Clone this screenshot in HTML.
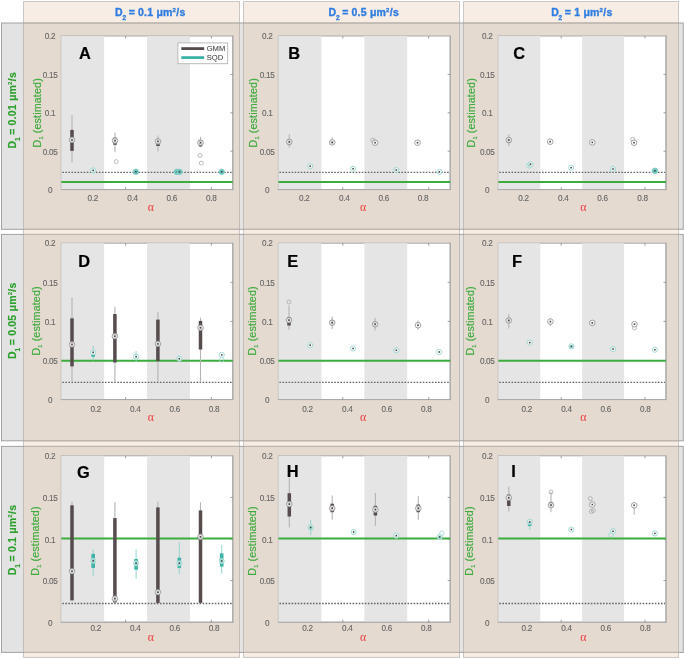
<!DOCTYPE html>
<html><head><meta charset="utf-8"><title>figure</title>
<style>html,body{margin:0;padding:0;background:#fff;width:685px;height:659px;overflow:hidden;font-family:"Liberation Sans", sans-serif;}
.wrap{position:relative;width:685px;height:659px;}</style></head>
<body><div class="wrap">
<svg width="685" height="659" viewBox="0 0 685 659" style="position:absolute;left:0;top:0;display:block;filter:blur(0.45px)">
<rect x="0" y="0" width="685" height="659" fill="#fff"/>
<rect x="23.5" y="1.5" width="216.0" height="655.9" fill="#f7ede4" stroke="#c9c6c3" stroke-width="1"/>
<rect x="243.5" y="1.5" width="216.0" height="655.9" fill="#f7ede4" stroke="#c9c6c3" stroke-width="1"/>
<rect x="463.5" y="1.5" width="215.0" height="655.9" fill="#f7ede4" stroke="#c9c6c3" stroke-width="1"/>
<rect x="1.5" y="23.0" width="681.75" height="206.3" fill="#e3e3e3"/>
<rect x="23.5" y="23.0" width="216.0" height="206.3" fill="#e4dad0"/>
<rect x="243.5" y="23.0" width="216.0" height="206.3" fill="#e4dad0"/>
<rect x="463.5" y="23.0" width="215.0" height="206.3" fill="#e4dad0"/>
<line x1="23.5" y1="23.0" x2="23.5" y2="229.3" stroke="#c4bdb7" stroke-width="1"/>
<line x1="239.5" y1="23.0" x2="239.5" y2="229.3" stroke="#c4bdb7" stroke-width="1"/>
<line x1="243.5" y1="23.0" x2="243.5" y2="229.3" stroke="#c4bdb7" stroke-width="1"/>
<line x1="459.5" y1="23.0" x2="459.5" y2="229.3" stroke="#c4bdb7" stroke-width="1"/>
<line x1="463.5" y1="23.0" x2="463.5" y2="229.3" stroke="#c4bdb7" stroke-width="1"/>
<line x1="678.5" y1="23.0" x2="678.5" y2="229.3" stroke="#c4bdb7" stroke-width="1"/>
<rect x="1.5" y="23.0" width="681.75" height="206.3" fill="none" stroke="#a2a2a2" stroke-width="1"/>
<line x1="24.0" y1="23.0" x2="239.0" y2="23.0" stroke="#c2b8af" stroke-width="1"/>
<line x1="24.0" y1="229.3" x2="239.0" y2="229.3" stroke="#c2b8af" stroke-width="1"/>
<line x1="244.0" y1="23.0" x2="459.0" y2="23.0" stroke="#c2b8af" stroke-width="1"/>
<line x1="244.0" y1="229.3" x2="459.0" y2="229.3" stroke="#c2b8af" stroke-width="1"/>
<line x1="464.0" y1="23.0" x2="678.0" y2="23.0" stroke="#c2b8af" stroke-width="1"/>
<line x1="464.0" y1="229.3" x2="678.0" y2="229.3" stroke="#c2b8af" stroke-width="1"/>
<rect x="1.5" y="234.4" width="681.75" height="206.4" fill="#e3e3e3"/>
<rect x="23.5" y="234.4" width="216.0" height="206.4" fill="#e4dad0"/>
<rect x="243.5" y="234.4" width="216.0" height="206.4" fill="#e4dad0"/>
<rect x="463.5" y="234.4" width="215.0" height="206.4" fill="#e4dad0"/>
<line x1="23.5" y1="234.4" x2="23.5" y2="440.8" stroke="#c4bdb7" stroke-width="1"/>
<line x1="239.5" y1="234.4" x2="239.5" y2="440.8" stroke="#c4bdb7" stroke-width="1"/>
<line x1="243.5" y1="234.4" x2="243.5" y2="440.8" stroke="#c4bdb7" stroke-width="1"/>
<line x1="459.5" y1="234.4" x2="459.5" y2="440.8" stroke="#c4bdb7" stroke-width="1"/>
<line x1="463.5" y1="234.4" x2="463.5" y2="440.8" stroke="#c4bdb7" stroke-width="1"/>
<line x1="678.5" y1="234.4" x2="678.5" y2="440.8" stroke="#c4bdb7" stroke-width="1"/>
<rect x="1.5" y="234.4" width="681.75" height="206.4" fill="none" stroke="#a2a2a2" stroke-width="1"/>
<line x1="24.0" y1="234.4" x2="239.0" y2="234.4" stroke="#c2b8af" stroke-width="1"/>
<line x1="24.0" y1="440.8" x2="239.0" y2="440.8" stroke="#c2b8af" stroke-width="1"/>
<line x1="244.0" y1="234.4" x2="459.0" y2="234.4" stroke="#c2b8af" stroke-width="1"/>
<line x1="244.0" y1="440.8" x2="459.0" y2="440.8" stroke="#c2b8af" stroke-width="1"/>
<line x1="464.0" y1="234.4" x2="678.0" y2="234.4" stroke="#c2b8af" stroke-width="1"/>
<line x1="464.0" y1="440.8" x2="678.0" y2="440.8" stroke="#c2b8af" stroke-width="1"/>
<rect x="1.5" y="446.4" width="681.75" height="206.0" fill="#e3e3e3"/>
<rect x="23.5" y="446.4" width="216.0" height="206.0" fill="#e4dad0"/>
<rect x="243.5" y="446.4" width="216.0" height="206.0" fill="#e4dad0"/>
<rect x="463.5" y="446.4" width="215.0" height="206.0" fill="#e4dad0"/>
<line x1="23.5" y1="446.4" x2="23.5" y2="652.4" stroke="#c4bdb7" stroke-width="1"/>
<line x1="239.5" y1="446.4" x2="239.5" y2="652.4" stroke="#c4bdb7" stroke-width="1"/>
<line x1="243.5" y1="446.4" x2="243.5" y2="652.4" stroke="#c4bdb7" stroke-width="1"/>
<line x1="459.5" y1="446.4" x2="459.5" y2="652.4" stroke="#c4bdb7" stroke-width="1"/>
<line x1="463.5" y1="446.4" x2="463.5" y2="652.4" stroke="#c4bdb7" stroke-width="1"/>
<line x1="678.5" y1="446.4" x2="678.5" y2="652.4" stroke="#c4bdb7" stroke-width="1"/>
<rect x="1.5" y="446.4" width="681.75" height="206.0" fill="none" stroke="#a2a2a2" stroke-width="1"/>
<line x1="24.0" y1="446.4" x2="239.0" y2="446.4" stroke="#c2b8af" stroke-width="1"/>
<line x1="24.0" y1="652.4" x2="239.0" y2="652.4" stroke="#c2b8af" stroke-width="1"/>
<line x1="244.0" y1="446.4" x2="459.0" y2="446.4" stroke="#c2b8af" stroke-width="1"/>
<line x1="244.0" y1="652.4" x2="459.0" y2="652.4" stroke="#c2b8af" stroke-width="1"/>
<line x1="464.0" y1="446.4" x2="678.0" y2="446.4" stroke="#c2b8af" stroke-width="1"/>
<line x1="464.0" y1="652.4" x2="678.0" y2="652.4" stroke="#c2b8af" stroke-width="1"/>
<text x="150.29999999999998" y="16.1" text-anchor="middle" font-family='"Liberation Sans", sans-serif' font-weight="bold" font-size="10.5" letter-spacing="0.3" fill="#2f7de1" stroke="#2f7de1" stroke-width="0.35"><tspan letter-spacing="-0.2">D</tspan><tspan font-size="6.5" dy="4.0" letter-spacing="2.6">2</tspan><tspan dy="-4.0" letter-spacing="0.2">= 0.1 μm</tspan><tspan font-size="6" dy="-3.8">2</tspan><tspan dy="3.8">/s</tspan></text>
<text x="363.8" y="16.1" text-anchor="middle" font-family='"Liberation Sans", sans-serif' font-weight="bold" font-size="10.5" letter-spacing="0.3" fill="#2f7de1" stroke="#2f7de1" stroke-width="0.35"><tspan letter-spacing="-0.2">D</tspan><tspan font-size="6.5" dy="4.0" letter-spacing="2.6">2</tspan><tspan dy="-4.0" letter-spacing="0.2">= 0.5 μm</tspan><tspan font-size="6" dy="-3.8">2</tspan><tspan dy="3.8">/s</tspan></text>
<text x="581.9000000000001" y="16.1" text-anchor="middle" font-family='"Liberation Sans", sans-serif' font-weight="bold" font-size="10.5" letter-spacing="0.3" fill="#2f7de1" stroke="#2f7de1" stroke-width="0.35"><tspan letter-spacing="-0.2">D</tspan><tspan font-size="6.5" dy="4.0" letter-spacing="2.6">2</tspan><tspan dy="-4.0" letter-spacing="0.2">= 1 μm</tspan><tspan font-size="6" dy="-3.8">2</tspan><tspan dy="3.8">/s</tspan></text>
<text transform="translate(15.8,110.2) rotate(-90)" x="0" y="0" text-anchor="middle" font-family='"Liberation Sans", sans-serif' font-weight="bold" font-size="10.5" letter-spacing="0.3" fill="#2ca02c" stroke="#2ca02c" stroke-width="0.15"><tspan letter-spacing="-0.2">D</tspan><tspan font-size="6.5" dy="4.0" letter-spacing="2.6">1</tspan><tspan dy="-4.0" letter-spacing="0.2">= 0.01 μm</tspan><tspan font-size="6" dy="-3.8">2</tspan><tspan dy="3.8">/s</tspan></text>
<text transform="translate(15.8,320.59999999999997) rotate(-90)" x="0" y="0" text-anchor="middle" font-family='"Liberation Sans", sans-serif' font-weight="bold" font-size="10.5" letter-spacing="0.3" fill="#2ca02c" stroke="#2ca02c" stroke-width="0.15"><tspan letter-spacing="-0.2">D</tspan><tspan font-size="6.5" dy="4.0" letter-spacing="2.6">1</tspan><tspan dy="-4.0" letter-spacing="0.2">= 0.05 μm</tspan><tspan font-size="6" dy="-3.8">2</tspan><tspan dy="3.8">/s</tspan></text>
<text transform="translate(15.8,539.9) rotate(-90)" x="0" y="0" text-anchor="middle" font-family='"Liberation Sans", sans-serif' font-weight="bold" font-size="10.5" letter-spacing="0.3" fill="#2ca02c" stroke="#2ca02c" stroke-width="0.15"><tspan letter-spacing="-0.2">D</tspan><tspan font-size="6.5" dy="4.0" letter-spacing="2.6">1</tspan><tspan dy="-4.0" letter-spacing="0.2">= 0.1 μm</tspan><tspan font-size="6" dy="-3.8">2</tspan><tspan dy="3.8">/s</tspan></text>
<g>
<rect x="61.3" y="36.0" width="171.5" height="153.55" fill="#fff" stroke="#a9a9a9" stroke-width="1"/>
<rect x="61.30" y="36.0" width="42.88" height="153.55" fill="#e5e5e5"/>
<rect x="147.05" y="36.0" width="42.88" height="153.55" fill="#e5e5e5"/>
<line x1="60.8" y1="189.55" x2="233.3" y2="189.55" stroke="#a9a9a9" stroke-width="1"/>
<line x1="232.8" y1="35.5" x2="232.8" y2="190.05" stroke="#a9a9a9" stroke-width="1"/>
<line x1="230.3" y1="151.2" x2="232.8" y2="151.2" stroke="#888" stroke-width="0.8"/>
<line x1="230.3" y1="112.8" x2="232.8" y2="112.8" stroke="#888" stroke-width="0.8"/>
<line x1="230.3" y1="74.4" x2="232.8" y2="74.4" stroke="#888" stroke-width="0.8"/>
<line x1="125.6" y1="187.1" x2="125.6" y2="189.6" stroke="#888" stroke-width="0.8"/>
<line x1="125.6" y1="36.0" x2="125.6" y2="38.5" stroke="#888" stroke-width="0.8"/>
<line x1="211.4" y1="187.1" x2="211.4" y2="189.6" stroke="#888" stroke-width="0.8"/>
<line x1="211.4" y1="36.0" x2="211.4" y2="38.5" stroke="#888" stroke-width="0.8"/>
<line x1="61.3" y1="182.0" x2="232.8" y2="182.0" stroke="#3cad3c" stroke-width="2"/>
<line x1="62.3" y1="172.4" x2="231.8" y2="172.4" stroke="#666" stroke-width="1.4" stroke-dasharray="1.6 1.45"/>
<line x1="72" y1="115.1" x2="72" y2="162.4" stroke="#b4b4b4" stroke-width="1.1"/>
<rect x="70.25" y="129.9" width="3.5" height="21.0" fill="#574c4c"/>
<circle cx="72" cy="139.9" r="2.8" fill="#fff" fill-opacity="0.8" stroke="#8c8c8c" stroke-width="0.8"/>
<rect x="71.2" y="139.1" width="1.6" height="1.6" fill="#444"/>
<line x1="115" y1="132.5" x2="115" y2="152.2" stroke="#b4b4b4" stroke-width="1.1"/>
<rect x="113.25" y="137.6" width="3.5" height="7.200000000000017" fill="#574c4c"/>
<circle cx="116.2" cy="161.6" r="2.0" fill="none" stroke="#a2a2a2" stroke-width="0.7"/>
<circle cx="115" cy="140.6" r="2.8" fill="#fff" fill-opacity="0.8" stroke="#8c8c8c" stroke-width="0.8"/>
<rect x="114.2" y="139.79999999999998" width="1.6" height="1.6" fill="#444"/>
<line x1="158" y1="135.5" x2="158" y2="151.4" stroke="#b4b4b4" stroke-width="1.1"/>
<rect x="156.25" y="139" width="3.5" height="7" fill="#574c4c"/>
<circle cx="158" cy="141.4" r="2.8" fill="#fff" fill-opacity="0.8" stroke="#8c8c8c" stroke-width="0.8"/>
<rect x="157.2" y="140.6" width="1.6" height="1.6" fill="#444"/>
<line x1="200.5" y1="136.8" x2="200.5" y2="147" stroke="#b4b4b4" stroke-width="1.1"/>
<rect x="198.75" y="140" width="3.5" height="6.5" fill="#574c4c"/>
<circle cx="200" cy="155.5" r="2.0" fill="none" stroke="#a2a2a2" stroke-width="0.7"/>
<circle cx="201.3" cy="163.1" r="2.0" fill="none" stroke="#a2a2a2" stroke-width="0.7"/>
<circle cx="200.5" cy="142.7" r="2.8" fill="#fff" fill-opacity="0.8" stroke="#8c8c8c" stroke-width="0.8"/>
<rect x="199.7" y="141.89999999999998" width="1.6" height="1.6" fill="#444"/>
<line x1="93.2" y1="168" x2="93.2" y2="173.5" stroke="#8fd3cc" stroke-width="0.95"/>
<circle cx="93.2" cy="170.4" r="2.6" fill="#fff" fill-opacity="0.55" stroke="#9dd8d1" stroke-width="0.95"/>
<rect x="92.45" y="169.65" width="1.5" height="1.5" fill="#3a3a3a"/>
<circle cx="135.9" cy="171.8" r="2.9" fill="#6cc5bc" stroke="#8fd3cb" stroke-width="0.6"/>
<rect x="135.15" y="171.05" width="1.5" height="1.5" fill="#3a3a3a"/>
<circle cx="176.8" cy="171.8" r="2.9" fill="#6cc5bc" stroke="#8fd3cb" stroke-width="0.6"/>
<rect x="176.05" y="171.05" width="1.5" height="1.5" fill="#3a3a3a"/>
<circle cx="179.5" cy="171.8" r="2.9" fill="#6cc5bc" stroke="#8fd3cb" stroke-width="0.6"/>
<rect x="178.75" y="171.05" width="1.5" height="1.5" fill="#3a3a3a"/>
<circle cx="221.7" cy="171.8" r="2.9" fill="#6cc5bc" stroke="#8fd3cb" stroke-width="0.6"/>
<rect x="220.95" y="171.05" width="1.5" height="1.5" fill="#3a3a3a"/>
<text transform="translate(85,58.699999999999996) scale(1.05,1)" text-anchor="middle" font-family='"Liberation Sans", sans-serif' font-weight="bold" font-size="15.6" fill="#000" stroke="#000" stroke-width="0.2">A</text>
<text x="50.05" y="193.10" text-anchor="middle" letter-spacing="-0.3" font-family='"Liberation Sans", sans-serif' font-size="8.2" fill="#656565" stroke="#656565" stroke-width="0.1">0</text>
<text x="50.05" y="154.71" text-anchor="middle" letter-spacing="-0.3" font-family='"Liberation Sans", sans-serif' font-size="8.2" fill="#656565" stroke="#656565" stroke-width="0.1">0.05</text>
<text x="50.05" y="116.33" text-anchor="middle" letter-spacing="-0.3" font-family='"Liberation Sans", sans-serif' font-size="8.2" fill="#656565" stroke="#656565" stroke-width="0.1">0.1</text>
<text x="50.05" y="77.94" text-anchor="middle" letter-spacing="-0.3" font-family='"Liberation Sans", sans-serif' font-size="8.2" fill="#656565" stroke="#656565" stroke-width="0.1">0.15</text>
<text x="50.05" y="38.75" text-anchor="middle" letter-spacing="-0.3" font-family='"Liberation Sans", sans-serif' font-size="8.2" fill="#656565" stroke="#656565" stroke-width="0.1">0.2</text>
<text x="92.65" y="201.15" text-anchor="middle" letter-spacing="-0.3" font-family='"Liberation Sans", sans-serif' font-size="8.2" fill="#656565" stroke="#656565" stroke-width="0.1">0.2</text>
<text x="132.45" y="201.15" text-anchor="middle" letter-spacing="-0.3" font-family='"Liberation Sans", sans-serif' font-size="8.2" fill="#656565" stroke="#656565" stroke-width="0.1">0.4</text>
<text x="171.65" y="201.15" text-anchor="middle" letter-spacing="-0.3" font-family='"Liberation Sans", sans-serif' font-size="8.2" fill="#656565" stroke="#656565" stroke-width="0.1">0.6</text>
<text x="211.35" y="201.15" text-anchor="middle" letter-spacing="-0.3" font-family='"Liberation Sans", sans-serif' font-size="8.2" fill="#656565" stroke="#656565" stroke-width="0.1">0.8</text>
<text x="150.79999999999998" y="211.0" text-anchor="middle" font-family='"Liberation Serif", serif' font-size="11.8" fill="#ec3b3b">α</text>
<text transform="translate(40.50,112.8) rotate(-90)" text-anchor="middle" font-family='"Liberation Sans", sans-serif' font-size="10.7" letter-spacing="0.15" fill="#3dab3d" stroke="#3dab3d" stroke-width="0.18">D<tspan font-size="5.5" dy="2.2">1</tspan><tspan dy="-2.2"> (estimated)</tspan></text>
</g>
<g>
<rect x="278.4" y="36.0" width="171.8" height="153.55" fill="#fff" stroke="#a9a9a9" stroke-width="1"/>
<rect x="278.40" y="36.0" width="42.95" height="153.55" fill="#e5e5e5"/>
<rect x="364.30" y="36.0" width="42.95" height="153.55" fill="#e5e5e5"/>
<line x1="277.9" y1="189.55" x2="450.7" y2="189.55" stroke="#a9a9a9" stroke-width="1"/>
<line x1="450.2" y1="35.5" x2="450.2" y2="190.05" stroke="#a9a9a9" stroke-width="1"/>
<line x1="447.7" y1="151.2" x2="450.2" y2="151.2" stroke="#888" stroke-width="0.8"/>
<line x1="447.7" y1="112.8" x2="450.2" y2="112.8" stroke="#888" stroke-width="0.8"/>
<line x1="447.7" y1="74.4" x2="450.2" y2="74.4" stroke="#888" stroke-width="0.8"/>
<line x1="342.8" y1="187.1" x2="342.8" y2="189.6" stroke="#888" stroke-width="0.8"/>
<line x1="342.8" y1="36.0" x2="342.8" y2="38.5" stroke="#888" stroke-width="0.8"/>
<line x1="428.7" y1="187.1" x2="428.7" y2="189.6" stroke="#888" stroke-width="0.8"/>
<line x1="428.7" y1="36.0" x2="428.7" y2="38.5" stroke="#888" stroke-width="0.8"/>
<line x1="278.4" y1="182.0" x2="450.2" y2="182.0" stroke="#3cad3c" stroke-width="2"/>
<line x1="279.4" y1="172.4" x2="449.2" y2="172.4" stroke="#666" stroke-width="1.4" stroke-dasharray="1.6 1.45"/>
<line x1="289.3" y1="134.3" x2="289.3" y2="147.6" stroke="#b4b4b4" stroke-width="1.1"/>
<rect x="287.55" y="139.5" width="3.5" height="5.0" fill="#574c4c"/>
<circle cx="289.3" cy="141.9" r="2.8" fill="#fff" fill-opacity="0.8" stroke="#8c8c8c" stroke-width="0.8"/>
<rect x="288.5" y="141.1" width="1.6" height="1.6" fill="#444"/>
<line x1="332.2" y1="137.6" x2="332.2" y2="145" stroke="#b4b4b4" stroke-width="1.1"/>
<rect x="330.45" y="141" width="3.5" height="3" fill="#574c4c"/>
<circle cx="332.2" cy="142.4" r="2.8" fill="#fff" fill-opacity="0.8" stroke="#8c8c8c" stroke-width="0.8"/>
<rect x="331.4" y="141.6" width="1.6" height="1.6" fill="#444"/>
<line x1="375.1" y1="140" x2="375.1" y2="145" stroke="#b4b4b4" stroke-width="1.1"/>
<circle cx="372.8" cy="140.1" r="2.0" fill="none" stroke="#a2a2a2" stroke-width="0.7"/>
<circle cx="375.1" cy="142.7" r="2.8" fill="#fff" fill-opacity="0.8" stroke="#8c8c8c" stroke-width="0.8"/>
<rect x="374.3" y="141.89999999999998" width="1.6" height="1.6" fill="#444"/>
<line x1="417.5" y1="140.5" x2="417.5" y2="145" stroke="#b4b4b4" stroke-width="1.1"/>
<circle cx="417.5" cy="142.7" r="2.8" fill="#fff" fill-opacity="0.8" stroke="#8c8c8c" stroke-width="0.8"/>
<rect x="416.7" y="141.89999999999998" width="1.6" height="1.6" fill="#444"/>
<circle cx="310.2" cy="166.2" r="2.6" fill="#fff" fill-opacity="0.55" stroke="#9dd8d1" stroke-width="0.95"/>
<rect x="309.45" y="165.45" width="1.5" height="1.5" fill="#3a3a3a"/>
<circle cx="353.1" cy="168.8" r="2.6" fill="#fff" fill-opacity="0.55" stroke="#9dd8d1" stroke-width="0.95"/>
<rect x="352.35" y="168.05" width="1.5" height="1.5" fill="#3a3a3a"/>
<circle cx="396.3" cy="170" r="2.6" fill="#fff" fill-opacity="0.55" stroke="#9dd8d1" stroke-width="0.95"/>
<rect x="395.55" y="169.25" width="1.5" height="1.5" fill="#3a3a3a"/>
<circle cx="439.4" cy="171.8" r="2.6" fill="#fff" fill-opacity="0.55" stroke="#9dd8d1" stroke-width="0.95"/>
<rect x="438.65" y="171.05" width="1.5" height="1.5" fill="#3a3a3a"/>
<text transform="translate(294.2,58.5) scale(1.05,1)" text-anchor="middle" font-family='"Liberation Sans", sans-serif' font-weight="bold" font-size="15.6" fill="#000" stroke="#000" stroke-width="0.2">B</text>
<text x="267.15" y="193.10" text-anchor="middle" letter-spacing="-0.3" font-family='"Liberation Sans", sans-serif' font-size="8.2" fill="#656565" stroke="#656565" stroke-width="0.1">0</text>
<text x="267.15" y="154.71" text-anchor="middle" letter-spacing="-0.3" font-family='"Liberation Sans", sans-serif' font-size="8.2" fill="#656565" stroke="#656565" stroke-width="0.1">0.05</text>
<text x="267.15" y="116.33" text-anchor="middle" letter-spacing="-0.3" font-family='"Liberation Sans", sans-serif' font-size="8.2" fill="#656565" stroke="#656565" stroke-width="0.1">0.1</text>
<text x="267.15" y="77.94" text-anchor="middle" letter-spacing="-0.3" font-family='"Liberation Sans", sans-serif' font-size="8.2" fill="#656565" stroke="#656565" stroke-width="0.1">0.15</text>
<text x="267.15" y="38.75" text-anchor="middle" letter-spacing="-0.3" font-family='"Liberation Sans", sans-serif' font-size="8.2" fill="#656565" stroke="#656565" stroke-width="0.1">0.2</text>
<text x="304.25" y="201.15" text-anchor="middle" letter-spacing="-0.3" font-family='"Liberation Sans", sans-serif' font-size="8.2" fill="#656565" stroke="#656565" stroke-width="0.1">0.2</text>
<text x="344.25" y="201.15" text-anchor="middle" letter-spacing="-0.3" font-family='"Liberation Sans", sans-serif' font-size="8.2" fill="#656565" stroke="#656565" stroke-width="0.1">0.4</text>
<text x="383.65" y="201.15" text-anchor="middle" letter-spacing="-0.3" font-family='"Liberation Sans", sans-serif' font-size="8.2" fill="#656565" stroke="#656565" stroke-width="0.1">0.6</text>
<text x="423.05" y="201.15" text-anchor="middle" letter-spacing="-0.3" font-family='"Liberation Sans", sans-serif' font-size="8.2" fill="#656565" stroke="#656565" stroke-width="0.1">0.8</text>
<text x="363.0" y="211.0" text-anchor="middle" font-family='"Liberation Serif", serif' font-size="11.8" fill="#ec3b3b">α</text>
<text transform="translate(257.10,112.8) rotate(-90)" text-anchor="middle" font-family='"Liberation Sans", sans-serif' font-size="10.7" letter-spacing="0.15" fill="#3dab3d" stroke="#3dab3d" stroke-width="0.18">D<tspan font-size="5.5" dy="2.2">1</tspan><tspan dy="-2.2"> (estimated)</tspan></text>
</g>
<g>
<rect x="498.3" y="36.0" width="167.7" height="153.55" fill="#fff" stroke="#a9a9a9" stroke-width="1"/>
<rect x="498.30" y="36.0" width="41.92" height="153.55" fill="#e5e5e5"/>
<rect x="582.15" y="36.0" width="41.92" height="153.55" fill="#e5e5e5"/>
<line x1="497.8" y1="189.55" x2="666.5" y2="189.55" stroke="#a9a9a9" stroke-width="1"/>
<line x1="666.0" y1="35.5" x2="666.0" y2="190.05" stroke="#a9a9a9" stroke-width="1"/>
<line x1="663.5" y1="151.2" x2="666.0" y2="151.2" stroke="#888" stroke-width="0.8"/>
<line x1="663.5" y1="112.8" x2="666.0" y2="112.8" stroke="#888" stroke-width="0.8"/>
<line x1="663.5" y1="74.4" x2="666.0" y2="74.4" stroke="#888" stroke-width="0.8"/>
<line x1="561.2" y1="187.1" x2="561.2" y2="189.6" stroke="#888" stroke-width="0.8"/>
<line x1="561.2" y1="36.0" x2="561.2" y2="38.5" stroke="#888" stroke-width="0.8"/>
<line x1="645.0" y1="187.1" x2="645.0" y2="189.6" stroke="#888" stroke-width="0.8"/>
<line x1="645.0" y1="36.0" x2="645.0" y2="38.5" stroke="#888" stroke-width="0.8"/>
<line x1="498.3" y1="182.0" x2="666.0" y2="182.0" stroke="#3cad3c" stroke-width="2"/>
<line x1="499.3" y1="172.4" x2="665.0" y2="172.4" stroke="#666" stroke-width="1.4" stroke-dasharray="1.6 1.45"/>
<line x1="508.8" y1="134.3" x2="508.8" y2="146.3" stroke="#b4b4b4" stroke-width="1.1"/>
<rect x="507.05" y="138" width="3.5" height="5" fill="#574c4c"/>
<circle cx="508.8" cy="140.1" r="2.8" fill="#fff" fill-opacity="0.8" stroke="#8c8c8c" stroke-width="0.8"/>
<rect x="508.0" y="139.29999999999998" width="1.6" height="1.6" fill="#444"/>
<circle cx="550.2" cy="141.7" r="2.8" fill="#fff" fill-opacity="0.8" stroke="#8c8c8c" stroke-width="0.8"/>
<rect x="549.4000000000001" y="140.89999999999998" width="1.6" height="1.6" fill="#444"/>
<circle cx="592.3" cy="142.4" r="2.8" fill="#fff" fill-opacity="0.8" stroke="#8c8c8c" stroke-width="0.8"/>
<rect x="591.5" y="141.6" width="1.6" height="1.6" fill="#444"/>
<circle cx="632.7" cy="139.4" r="2.0" fill="none" stroke="#a2a2a2" stroke-width="0.7"/>
<circle cx="634" cy="142.7" r="2.8" fill="#fff" fill-opacity="0.8" stroke="#8c8c8c" stroke-width="0.8"/>
<rect x="633.2" y="141.89999999999998" width="1.6" height="1.6" fill="#444"/>
<circle cx="529.2" cy="165.5" r="2.6" fill="#fff" fill-opacity="0.55" stroke="#9dd8d1" stroke-width="0.95"/>
<rect x="528.45" y="164.75" width="1.5" height="1.5" fill="#3a3a3a"/>
<circle cx="530.5" cy="164.2" r="2.6" fill="#fff" fill-opacity="0.55" stroke="#9dd8d1" stroke-width="0.95"/>
<rect x="529.75" y="163.45" width="1.5" height="1.5" fill="#3a3a3a"/>
<circle cx="571.1" cy="167.7" r="2.6" fill="#fff" fill-opacity="0.55" stroke="#9dd8d1" stroke-width="0.95"/>
<rect x="570.35" y="166.95" width="1.5" height="1.5" fill="#3a3a3a"/>
<circle cx="613" cy="169" r="2.6" fill="#fff" fill-opacity="0.55" stroke="#9dd8d1" stroke-width="0.95"/>
<rect x="612.25" y="168.25" width="1.5" height="1.5" fill="#3a3a3a"/>
<circle cx="654.9" cy="170.8" r="2.9" fill="#6cc5bc" stroke="#8fd3cb" stroke-width="0.6"/>
<rect x="654.15" y="170.05" width="1.5" height="1.5" fill="#3a3a3a"/>
<text transform="translate(519.2,58.599999999999994) scale(1.05,1)" text-anchor="middle" font-family='"Liberation Sans", sans-serif' font-weight="bold" font-size="15.6" fill="#000" stroke="#000" stroke-width="0.2">C</text>
<text x="487.25" y="193.10" text-anchor="middle" letter-spacing="-0.3" font-family='"Liberation Sans", sans-serif' font-size="8.2" fill="#656565" stroke="#656565" stroke-width="0.1">0</text>
<text x="487.25" y="154.71" text-anchor="middle" letter-spacing="-0.3" font-family='"Liberation Sans", sans-serif' font-size="8.2" fill="#656565" stroke="#656565" stroke-width="0.1">0.05</text>
<text x="487.25" y="116.33" text-anchor="middle" letter-spacing="-0.3" font-family='"Liberation Sans", sans-serif' font-size="8.2" fill="#656565" stroke="#656565" stroke-width="0.1">0.1</text>
<text x="487.25" y="77.94" text-anchor="middle" letter-spacing="-0.3" font-family='"Liberation Sans", sans-serif' font-size="8.2" fill="#656565" stroke="#656565" stroke-width="0.1">0.15</text>
<text x="487.25" y="38.75" text-anchor="middle" letter-spacing="-0.3" font-family='"Liberation Sans", sans-serif' font-size="8.2" fill="#656565" stroke="#656565" stroke-width="0.1">0.2</text>
<text x="523.45" y="201.15" text-anchor="middle" letter-spacing="-0.3" font-family='"Liberation Sans", sans-serif' font-size="8.2" fill="#656565" stroke="#656565" stroke-width="0.1">0.2</text>
<text x="563.35" y="201.15" text-anchor="middle" letter-spacing="-0.3" font-family='"Liberation Sans", sans-serif' font-size="8.2" fill="#656565" stroke="#656565" stroke-width="0.1">0.4</text>
<text x="602.45" y="201.15" text-anchor="middle" letter-spacing="-0.3" font-family='"Liberation Sans", sans-serif' font-size="8.2" fill="#656565" stroke="#656565" stroke-width="0.1">0.6</text>
<text x="642.45" y="201.15" text-anchor="middle" letter-spacing="-0.3" font-family='"Liberation Sans", sans-serif' font-size="8.2" fill="#656565" stroke="#656565" stroke-width="0.1">0.8</text>
<text x="583.4000000000001" y="211.0" text-anchor="middle" font-family='"Liberation Serif", serif' font-size="11.8" fill="#ec3b3b">α</text>
<text transform="translate(474.70,112.8) rotate(-90)" text-anchor="middle" font-family='"Liberation Sans", sans-serif' font-size="10.7" letter-spacing="0.15" fill="#3dab3d" stroke="#3dab3d" stroke-width="0.18">D<tspan font-size="5.5" dy="2.2">1</tspan><tspan dy="-2.2"> (estimated)</tspan></text>
</g>
<g>
<rect x="61.3" y="243.2" width="171.5" height="156.35000000000002" fill="#fff" stroke="#a9a9a9" stroke-width="1"/>
<rect x="61.30" y="243.2" width="42.88" height="156.35000000000002" fill="#e5e5e5"/>
<rect x="147.05" y="243.2" width="42.88" height="156.35000000000002" fill="#e5e5e5"/>
<line x1="60.8" y1="399.55" x2="233.3" y2="399.55" stroke="#a9a9a9" stroke-width="1"/>
<line x1="232.8" y1="242.7" x2="232.8" y2="400.05" stroke="#a9a9a9" stroke-width="1"/>
<line x1="230.3" y1="360.5" x2="232.8" y2="360.5" stroke="#888" stroke-width="0.8"/>
<line x1="230.3" y1="321.4" x2="232.8" y2="321.4" stroke="#888" stroke-width="0.8"/>
<line x1="230.3" y1="282.3" x2="232.8" y2="282.3" stroke="#888" stroke-width="0.8"/>
<line x1="125.6" y1="397.1" x2="125.6" y2="399.6" stroke="#888" stroke-width="0.8"/>
<line x1="125.6" y1="243.2" x2="125.6" y2="245.7" stroke="#888" stroke-width="0.8"/>
<line x1="211.4" y1="397.1" x2="211.4" y2="399.6" stroke="#888" stroke-width="0.8"/>
<line x1="211.4" y1="243.2" x2="211.4" y2="245.7" stroke="#888" stroke-width="0.8"/>
<line x1="61.3" y1="360.8" x2="232.8" y2="360.8" stroke="#3cad3c" stroke-width="2"/>
<line x1="62.3" y1="382.4" x2="231.8" y2="382.4" stroke="#666" stroke-width="1.4" stroke-dasharray="1.6 1.45"/>
<line x1="72" y1="297.4" x2="72" y2="381.7" stroke="#b4b4b4" stroke-width="1.1"/>
<rect x="70.25" y="318.3" width="3.5" height="48.099999999999966" fill="#574c4c"/>
<circle cx="72" cy="344.4" r="2.8" fill="#fff" fill-opacity="0.8" stroke="#8c8c8c" stroke-width="0.8"/>
<rect x="71.2" y="343.59999999999997" width="1.6" height="1.6" fill="#444"/>
<line x1="114.9" y1="306.8" x2="114.9" y2="381.7" stroke="#b4b4b4" stroke-width="1.1"/>
<rect x="113.15" y="314" width="3.5" height="48.5" fill="#574c4c"/>
<circle cx="114.9" cy="336.2" r="2.8" fill="#fff" fill-opacity="0.8" stroke="#8c8c8c" stroke-width="0.8"/>
<rect x="114.10000000000001" y="335.4" width="1.6" height="1.6" fill="#444"/>
<line x1="157.9" y1="311.9" x2="157.9" y2="381.7" stroke="#b4b4b4" stroke-width="1.1"/>
<rect x="156.15" y="319.6" width="3.5" height="41.599999999999966" fill="#574c4c"/>
<circle cx="157.9" cy="343.9" r="2.8" fill="#fff" fill-opacity="0.8" stroke="#8c8c8c" stroke-width="0.8"/>
<rect x="157.1" y="343.09999999999997" width="1.6" height="1.6" fill="#444"/>
<line x1="200.5" y1="317.6" x2="200.5" y2="381.7" stroke="#b4b4b4" stroke-width="1.1"/>
<rect x="198.75" y="320.9" width="3.5" height="28.600000000000023" fill="#574c4c"/>
<circle cx="200.5" cy="327.8" r="2.8" fill="#fff" fill-opacity="0.8" stroke="#8c8c8c" stroke-width="0.8"/>
<rect x="199.7" y="327.0" width="1.6" height="1.6" fill="#444"/>
<line x1="93.2" y1="345.9" x2="93.2" y2="360.5" stroke="#8fd3cc" stroke-width="0.95"/>
<rect x="91.4" y="354" width="3.6" height="2.8000000000000114" fill="#3db2a6"/>
<circle cx="93.2" cy="352.3" r="2.6" fill="#fff" fill-opacity="0.55" stroke="#9dd8d1" stroke-width="0.95"/>
<rect x="92.45" y="351.55" width="1.5" height="1.5" fill="#3a3a3a"/>
<line x1="136.1" y1="351" x2="136.1" y2="362" stroke="#8fd3cc" stroke-width="0.95"/>
<circle cx="136.1" cy="356.6" r="2.6" fill="#fff" fill-opacity="0.55" stroke="#9dd8d1" stroke-width="0.95"/>
<rect x="135.35" y="355.85" width="1.5" height="1.5" fill="#3a3a3a"/>
<line x1="179.3" y1="355" x2="179.3" y2="362" stroke="#8fd3cc" stroke-width="0.95"/>
<circle cx="179.3" cy="358.7" r="2.6" fill="#fff" fill-opacity="0.55" stroke="#9dd8d1" stroke-width="0.95"/>
<rect x="178.55" y="357.95" width="1.5" height="1.5" fill="#3a3a3a"/>
<circle cx="221.7" cy="359.8" r="2.3" fill="none" stroke="#9dd8d1" stroke-width="0.8"/>
<circle cx="221.7" cy="354.9" r="2.6" fill="#fff" fill-opacity="0.55" stroke="#9dd8d1" stroke-width="0.95"/>
<rect x="220.95" y="354.15" width="1.5" height="1.5" fill="#3a3a3a"/>
<text transform="translate(84.2,266.90000000000003) scale(1.05,1)" text-anchor="middle" font-family='"Liberation Sans", sans-serif' font-weight="bold" font-size="15.6" fill="#000" stroke="#000" stroke-width="0.2">D</text>
<text x="50.05" y="403.10" text-anchor="middle" letter-spacing="-0.3" font-family='"Liberation Sans", sans-serif' font-size="8.2" fill="#656565" stroke="#656565" stroke-width="0.1">0</text>
<text x="50.05" y="364.01" text-anchor="middle" letter-spacing="-0.3" font-family='"Liberation Sans", sans-serif' font-size="8.2" fill="#656565" stroke="#656565" stroke-width="0.1">0.05</text>
<text x="50.05" y="324.93" text-anchor="middle" letter-spacing="-0.3" font-family='"Liberation Sans", sans-serif' font-size="8.2" fill="#656565" stroke="#656565" stroke-width="0.1">0.1</text>
<text x="50.05" y="285.84" text-anchor="middle" letter-spacing="-0.3" font-family='"Liberation Sans", sans-serif' font-size="8.2" fill="#656565" stroke="#656565" stroke-width="0.1">0.15</text>
<text x="50.05" y="245.95" text-anchor="middle" letter-spacing="-0.3" font-family='"Liberation Sans", sans-serif' font-size="8.2" fill="#656565" stroke="#656565" stroke-width="0.1">0.2</text>
<text x="95.85" y="412.45" text-anchor="middle" letter-spacing="-0.3" font-family='"Liberation Sans", sans-serif' font-size="8.2" fill="#656565" stroke="#656565" stroke-width="0.1">0.2</text>
<text x="135.25" y="412.45" text-anchor="middle" letter-spacing="-0.3" font-family='"Liberation Sans", sans-serif' font-size="8.2" fill="#656565" stroke="#656565" stroke-width="0.1">0.4</text>
<text x="174.65" y="412.45" text-anchor="middle" letter-spacing="-0.3" font-family='"Liberation Sans", sans-serif' font-size="8.2" fill="#656565" stroke="#656565" stroke-width="0.1">0.6</text>
<text x="214.05" y="412.45" text-anchor="middle" letter-spacing="-0.3" font-family='"Liberation Sans", sans-serif' font-size="8.2" fill="#656565" stroke="#656565" stroke-width="0.1">0.8</text>
<text x="150.79999999999998" y="421.3" text-anchor="middle" font-family='"Liberation Serif", serif' font-size="11.8" fill="#ec3b3b">α</text>
<text transform="translate(39.60,320.9) rotate(-90)" text-anchor="middle" font-family='"Liberation Sans", sans-serif' font-size="10.7" letter-spacing="0.15" fill="#3dab3d" stroke="#3dab3d" stroke-width="0.18">D<tspan font-size="5.5" dy="2.2">1</tspan><tspan dy="-2.2"> (estimated)</tspan></text>
</g>
<g>
<rect x="278.4" y="243.2" width="171.8" height="156.35000000000002" fill="#fff" stroke="#a9a9a9" stroke-width="1"/>
<rect x="278.40" y="243.2" width="42.95" height="156.35000000000002" fill="#e5e5e5"/>
<rect x="364.30" y="243.2" width="42.95" height="156.35000000000002" fill="#e5e5e5"/>
<line x1="277.9" y1="399.55" x2="450.7" y2="399.55" stroke="#a9a9a9" stroke-width="1"/>
<line x1="450.2" y1="242.7" x2="450.2" y2="400.05" stroke="#a9a9a9" stroke-width="1"/>
<line x1="447.7" y1="360.5" x2="450.2" y2="360.5" stroke="#888" stroke-width="0.8"/>
<line x1="447.7" y1="321.4" x2="450.2" y2="321.4" stroke="#888" stroke-width="0.8"/>
<line x1="447.7" y1="282.3" x2="450.2" y2="282.3" stroke="#888" stroke-width="0.8"/>
<line x1="342.8" y1="397.1" x2="342.8" y2="399.6" stroke="#888" stroke-width="0.8"/>
<line x1="342.8" y1="243.2" x2="342.8" y2="245.7" stroke="#888" stroke-width="0.8"/>
<line x1="428.7" y1="397.1" x2="428.7" y2="399.6" stroke="#888" stroke-width="0.8"/>
<line x1="428.7" y1="243.2" x2="428.7" y2="245.7" stroke="#888" stroke-width="0.8"/>
<line x1="278.4" y1="360.8" x2="450.2" y2="360.8" stroke="#3cad3c" stroke-width="2"/>
<line x1="279.4" y1="382.4" x2="449.2" y2="382.4" stroke="#666" stroke-width="1.4" stroke-dasharray="1.6 1.45"/>
<line x1="289" y1="305.5" x2="289" y2="329.8" stroke="#b4b4b4" stroke-width="1.1"/>
<rect x="287.25" y="317" width="3.5" height="8.5" fill="#574c4c"/>
<circle cx="289" cy="302" r="2.0" fill="none" stroke="#a2a2a2" stroke-width="0.7"/>
<circle cx="289" cy="320.1" r="2.8" fill="#fff" fill-opacity="0.8" stroke="#8c8c8c" stroke-width="0.8"/>
<rect x="288.2" y="319.3" width="1.6" height="1.6" fill="#444"/>
<line x1="332.2" y1="316.5" x2="332.2" y2="329.3" stroke="#b4b4b4" stroke-width="1.1"/>
<rect x="330.45" y="320" width="3.5" height="5" fill="#574c4c"/>
<circle cx="332.2" cy="322.7" r="2.8" fill="#fff" fill-opacity="0.8" stroke="#8c8c8c" stroke-width="0.8"/>
<rect x="331.4" y="321.9" width="1.6" height="1.6" fill="#444"/>
<line x1="375.1" y1="317.8" x2="375.1" y2="330.6" stroke="#b4b4b4" stroke-width="1.1"/>
<rect x="373.35" y="322" width="3.5" height="4.5" fill="#574c4c"/>
<circle cx="375.1" cy="324.2" r="2.8" fill="#fff" fill-opacity="0.8" stroke="#8c8c8c" stroke-width="0.8"/>
<rect x="374.3" y="323.4" width="1.6" height="1.6" fill="#444"/>
<line x1="418" y1="320.4" x2="418" y2="329.8" stroke="#b4b4b4" stroke-width="1.1"/>
<circle cx="418" cy="325.2" r="2.8" fill="#fff" fill-opacity="0.8" stroke="#8c8c8c" stroke-width="0.8"/>
<rect x="417.2" y="324.4" width="1.6" height="1.6" fill="#444"/>
<circle cx="310.2" cy="345.2" r="2.6" fill="#fff" fill-opacity="0.55" stroke="#9dd8d1" stroke-width="0.95"/>
<rect x="309.45" y="344.45" width="1.5" height="1.5" fill="#3a3a3a"/>
<circle cx="353.1" cy="348.5" r="2.6" fill="#fff" fill-opacity="0.55" stroke="#9dd8d1" stroke-width="0.95"/>
<rect x="352.35" y="347.75" width="1.5" height="1.5" fill="#3a3a3a"/>
<circle cx="396.3" cy="350.3" r="2.6" fill="#fff" fill-opacity="0.55" stroke="#9dd8d1" stroke-width="0.95"/>
<rect x="395.55" y="349.55" width="1.5" height="1.5" fill="#3a3a3a"/>
<circle cx="439.2" cy="352" r="2.6" fill="#fff" fill-opacity="0.55" stroke="#9dd8d1" stroke-width="0.95"/>
<rect x="438.45" y="351.25" width="1.5" height="1.5" fill="#3a3a3a"/>
<text transform="translate(292.6,266.7) scale(1.05,1)" text-anchor="middle" font-family='"Liberation Sans", sans-serif' font-weight="bold" font-size="15.6" fill="#000" stroke="#000" stroke-width="0.2">E</text>
<text x="267.15" y="403.10" text-anchor="middle" letter-spacing="-0.3" font-family='"Liberation Sans", sans-serif' font-size="8.2" fill="#656565" stroke="#656565" stroke-width="0.1">0</text>
<text x="267.15" y="364.01" text-anchor="middle" letter-spacing="-0.3" font-family='"Liberation Sans", sans-serif' font-size="8.2" fill="#656565" stroke="#656565" stroke-width="0.1">0.05</text>
<text x="267.15" y="324.93" text-anchor="middle" letter-spacing="-0.3" font-family='"Liberation Sans", sans-serif' font-size="8.2" fill="#656565" stroke="#656565" stroke-width="0.1">0.1</text>
<text x="267.15" y="285.84" text-anchor="middle" letter-spacing="-0.3" font-family='"Liberation Sans", sans-serif' font-size="8.2" fill="#656565" stroke="#656565" stroke-width="0.1">0.15</text>
<text x="267.15" y="245.95" text-anchor="middle" letter-spacing="-0.3" font-family='"Liberation Sans", sans-serif' font-size="8.2" fill="#656565" stroke="#656565" stroke-width="0.1">0.2</text>
<text x="307.45" y="412.45" text-anchor="middle" letter-spacing="-0.3" font-family='"Liberation Sans", sans-serif' font-size="8.2" fill="#656565" stroke="#656565" stroke-width="0.1">0.2</text>
<text x="347.35" y="412.45" text-anchor="middle" letter-spacing="-0.3" font-family='"Liberation Sans", sans-serif' font-size="8.2" fill="#656565" stroke="#656565" stroke-width="0.1">0.4</text>
<text x="386.75" y="412.45" text-anchor="middle" letter-spacing="-0.3" font-family='"Liberation Sans", sans-serif' font-size="8.2" fill="#656565" stroke="#656565" stroke-width="0.1">0.6</text>
<text x="426.15" y="412.45" text-anchor="middle" letter-spacing="-0.3" font-family='"Liberation Sans", sans-serif' font-size="8.2" fill="#656565" stroke="#656565" stroke-width="0.1">0.8</text>
<text x="363.0" y="421.3" text-anchor="middle" font-family='"Liberation Serif", serif' font-size="11.8" fill="#ec3b3b">α</text>
<text transform="translate(256.20,320.9) rotate(-90)" text-anchor="middle" font-family='"Liberation Sans", sans-serif' font-size="10.7" letter-spacing="0.15" fill="#3dab3d" stroke="#3dab3d" stroke-width="0.18">D<tspan font-size="5.5" dy="2.2">1</tspan><tspan dy="-2.2"> (estimated)</tspan></text>
</g>
<g>
<rect x="498.3" y="243.2" width="167.7" height="156.35000000000002" fill="#fff" stroke="#a9a9a9" stroke-width="1"/>
<rect x="498.30" y="243.2" width="41.92" height="156.35000000000002" fill="#e5e5e5"/>
<rect x="582.15" y="243.2" width="41.92" height="156.35000000000002" fill="#e5e5e5"/>
<line x1="497.8" y1="399.55" x2="666.5" y2="399.55" stroke="#a9a9a9" stroke-width="1"/>
<line x1="666.0" y1="242.7" x2="666.0" y2="400.05" stroke="#a9a9a9" stroke-width="1"/>
<line x1="663.5" y1="360.5" x2="666.0" y2="360.5" stroke="#888" stroke-width="0.8"/>
<line x1="663.5" y1="321.4" x2="666.0" y2="321.4" stroke="#888" stroke-width="0.8"/>
<line x1="663.5" y1="282.3" x2="666.0" y2="282.3" stroke="#888" stroke-width="0.8"/>
<line x1="561.2" y1="397.1" x2="561.2" y2="399.6" stroke="#888" stroke-width="0.8"/>
<line x1="561.2" y1="243.2" x2="561.2" y2="245.7" stroke="#888" stroke-width="0.8"/>
<line x1="645.0" y1="397.1" x2="645.0" y2="399.6" stroke="#888" stroke-width="0.8"/>
<line x1="645.0" y1="243.2" x2="645.0" y2="245.7" stroke="#888" stroke-width="0.8"/>
<line x1="498.3" y1="360.8" x2="666.0" y2="360.8" stroke="#3cad3c" stroke-width="2"/>
<line x1="499.3" y1="382.4" x2="665.0" y2="382.4" stroke="#666" stroke-width="1.4" stroke-dasharray="1.6 1.45"/>
<line x1="508.8" y1="314" x2="508.8" y2="328.5" stroke="#b4b4b4" stroke-width="1.1"/>
<rect x="507.05" y="318" width="3.5" height="5" fill="#574c4c"/>
<circle cx="508.8" cy="320.4" r="2.8" fill="#fff" fill-opacity="0.8" stroke="#8c8c8c" stroke-width="0.8"/>
<rect x="508.0" y="319.59999999999997" width="1.6" height="1.6" fill="#444"/>
<line x1="550.4" y1="318" x2="550.4" y2="326" stroke="#b4b4b4" stroke-width="1.1"/>
<circle cx="550.4" cy="321.6" r="2.8" fill="#fff" fill-opacity="0.8" stroke="#8c8c8c" stroke-width="0.8"/>
<rect x="549.6" y="320.8" width="1.6" height="1.6" fill="#444"/>
<line x1="592.3" y1="320" x2="592.3" y2="326" stroke="#b4b4b4" stroke-width="1.1"/>
<circle cx="592.3" cy="322.9" r="2.8" fill="#fff" fill-opacity="0.8" stroke="#8c8c8c" stroke-width="0.8"/>
<rect x="591.5" y="322.09999999999997" width="1.6" height="1.6" fill="#444"/>
<circle cx="634.5" cy="328" r="2.0" fill="none" stroke="#a2a2a2" stroke-width="0.7"/>
<circle cx="634.5" cy="324.2" r="2.8" fill="#fff" fill-opacity="0.8" stroke="#8c8c8c" stroke-width="0.8"/>
<rect x="633.7" y="323.4" width="1.6" height="1.6" fill="#444"/>
<circle cx="529.7" cy="342.6" r="2.6" fill="#fff" fill-opacity="0.55" stroke="#9dd8d1" stroke-width="0.95"/>
<rect x="528.95" y="341.85" width="1.5" height="1.5" fill="#3a3a3a"/>
<rect x="569.6" y="345" width="3.6" height="3.5" fill="#3db2a6"/>
<circle cx="571.4" cy="346.4" r="2.6" fill="#fff" fill-opacity="0.55" stroke="#9dd8d1" stroke-width="0.95"/>
<rect x="570.65" y="345.65" width="1.5" height="1.5" fill="#3a3a3a"/>
<circle cx="613" cy="349" r="2.6" fill="#fff" fill-opacity="0.55" stroke="#9dd8d1" stroke-width="0.95"/>
<rect x="612.25" y="348.25" width="1.5" height="1.5" fill="#3a3a3a"/>
<circle cx="654.9" cy="349.7" r="2.6" fill="#fff" fill-opacity="0.55" stroke="#9dd8d1" stroke-width="0.95"/>
<rect x="654.15" y="348.95" width="1.5" height="1.5" fill="#3a3a3a"/>
<text transform="translate(517,266.7) scale(1.05,1)" text-anchor="middle" font-family='"Liberation Sans", sans-serif' font-weight="bold" font-size="15.6" fill="#000" stroke="#000" stroke-width="0.2">F</text>
<text x="487.25" y="403.10" text-anchor="middle" letter-spacing="-0.3" font-family='"Liberation Sans", sans-serif' font-size="8.2" fill="#656565" stroke="#656565" stroke-width="0.1">0</text>
<text x="487.25" y="364.01" text-anchor="middle" letter-spacing="-0.3" font-family='"Liberation Sans", sans-serif' font-size="8.2" fill="#656565" stroke="#656565" stroke-width="0.1">0.05</text>
<text x="487.25" y="324.93" text-anchor="middle" letter-spacing="-0.3" font-family='"Liberation Sans", sans-serif' font-size="8.2" fill="#656565" stroke="#656565" stroke-width="0.1">0.1</text>
<text x="487.25" y="285.84" text-anchor="middle" letter-spacing="-0.3" font-family='"Liberation Sans", sans-serif' font-size="8.2" fill="#656565" stroke="#656565" stroke-width="0.1">0.15</text>
<text x="487.25" y="245.95" text-anchor="middle" letter-spacing="-0.3" font-family='"Liberation Sans", sans-serif' font-size="8.2" fill="#656565" stroke="#656565" stroke-width="0.1">0.2</text>
<text x="526.75" y="412.45" text-anchor="middle" letter-spacing="-0.3" font-family='"Liberation Sans", sans-serif' font-size="8.2" fill="#656565" stroke="#656565" stroke-width="0.1">0.2</text>
<text x="566.45" y="412.45" text-anchor="middle" letter-spacing="-0.3" font-family='"Liberation Sans", sans-serif' font-size="8.2" fill="#656565" stroke="#656565" stroke-width="0.1">0.4</text>
<text x="605.85" y="412.45" text-anchor="middle" letter-spacing="-0.3" font-family='"Liberation Sans", sans-serif' font-size="8.2" fill="#656565" stroke="#656565" stroke-width="0.1">0.6</text>
<text x="645.15" y="412.45" text-anchor="middle" letter-spacing="-0.3" font-family='"Liberation Sans", sans-serif' font-size="8.2" fill="#656565" stroke="#656565" stroke-width="0.1">0.8</text>
<text x="583.4000000000001" y="421.3" text-anchor="middle" font-family='"Liberation Serif", serif' font-size="11.8" fill="#ec3b3b">α</text>
<text transform="translate(473.80,320.9) rotate(-90)" text-anchor="middle" font-family='"Liberation Sans", sans-serif' font-size="10.7" letter-spacing="0.15" fill="#3dab3d" stroke="#3dab3d" stroke-width="0.18">D<tspan font-size="5.5" dy="2.2">1</tspan><tspan dy="-2.2"> (estimated)</tspan></text>
</g>
<g>
<rect x="61.3" y="455.8" width="171.5" height="166.40000000000003" fill="#fff" stroke="#a9a9a9" stroke-width="1"/>
<rect x="61.30" y="455.8" width="42.88" height="166.40000000000003" fill="#e5e5e5"/>
<rect x="147.05" y="455.8" width="42.88" height="166.40000000000003" fill="#e5e5e5"/>
<line x1="60.8" y1="622.2" x2="233.3" y2="622.2" stroke="#a9a9a9" stroke-width="1"/>
<line x1="232.8" y1="455.3" x2="232.8" y2="622.7" stroke="#a9a9a9" stroke-width="1"/>
<line x1="230.3" y1="580.6" x2="232.8" y2="580.6" stroke="#888" stroke-width="0.8"/>
<line x1="230.3" y1="539.0" x2="232.8" y2="539.0" stroke="#888" stroke-width="0.8"/>
<line x1="230.3" y1="497.4" x2="232.8" y2="497.4" stroke="#888" stroke-width="0.8"/>
<line x1="125.6" y1="619.7" x2="125.6" y2="622.2" stroke="#888" stroke-width="0.8"/>
<line x1="125.6" y1="455.8" x2="125.6" y2="458.3" stroke="#888" stroke-width="0.8"/>
<line x1="211.4" y1="619.7" x2="211.4" y2="622.2" stroke="#888" stroke-width="0.8"/>
<line x1="211.4" y1="455.8" x2="211.4" y2="458.3" stroke="#888" stroke-width="0.8"/>
<line x1="61.3" y1="538.6" x2="232.8" y2="538.6" stroke="#3cad3c" stroke-width="2"/>
<line x1="62.3" y1="603.5" x2="231.8" y2="603.5" stroke="#666" stroke-width="1.4" stroke-dasharray="1.6 1.45"/>
<line x1="72" y1="501.5" x2="72" y2="600.4" stroke="#b4b4b4" stroke-width="1.1"/>
<rect x="70.25" y="505.3" width="3.5" height="95.09999999999997" fill="#574c4c"/>
<circle cx="72" cy="571.2" r="2.8" fill="#fff" fill-opacity="0.8" stroke="#8c8c8c" stroke-width="0.8"/>
<rect x="71.2" y="570.4000000000001" width="1.6" height="1.6" fill="#444"/>
<line x1="114.9" y1="502.3" x2="114.9" y2="602.4" stroke="#b4b4b4" stroke-width="1.1"/>
<rect x="113.15" y="518.1" width="3.5" height="84.29999999999995" fill="#574c4c"/>
<circle cx="114.9" cy="598.6" r="2.8" fill="#fff" fill-opacity="0.8" stroke="#8c8c8c" stroke-width="0.8"/>
<rect x="114.10000000000001" y="597.8000000000001" width="1.6" height="1.6" fill="#444"/>
<line x1="157.9" y1="501.5" x2="157.9" y2="602.9" stroke="#b4b4b4" stroke-width="1.1"/>
<rect x="156.15" y="507.4" width="3.5" height="95.5" fill="#574c4c"/>
<circle cx="157.9" cy="592.2" r="2.8" fill="#fff" fill-opacity="0.8" stroke="#8c8c8c" stroke-width="0.8"/>
<rect x="157.1" y="591.4000000000001" width="1.6" height="1.6" fill="#444"/>
<line x1="200.5" y1="502.3" x2="200.5" y2="602.9" stroke="#b4b4b4" stroke-width="1.1"/>
<rect x="198.75" y="510.4" width="3.5" height="92.5" fill="#574c4c"/>
<circle cx="200.5" cy="536.8" r="2.8" fill="#fff" fill-opacity="0.8" stroke="#8c8c8c" stroke-width="0.8"/>
<rect x="199.7" y="536.0" width="1.6" height="1.6" fill="#444"/>
<line x1="93.2" y1="549.3" x2="93.2" y2="576.4" stroke="#8fd3cc" stroke-width="0.95"/>
<rect x="91.4" y="553.9" width="3.6" height="14.0" fill="#3db2a6"/>
<circle cx="93.2" cy="560.8" r="2.6" fill="#fff" fill-opacity="0.55" stroke="#9dd8d1" stroke-width="0.95"/>
<rect x="92.45" y="560.05" width="1.5" height="1.5" fill="#3a3a3a"/>
<line x1="136.1" y1="549.3" x2="136.1" y2="578.9" stroke="#8fd3cc" stroke-width="0.95"/>
<rect x="134.29999999999998" y="559" width="3.6" height="10.700000000000045" fill="#3db2a6"/>
<circle cx="136.1" cy="563.3" r="2.6" fill="#fff" fill-opacity="0.55" stroke="#9dd8d1" stroke-width="0.95"/>
<rect x="135.35" y="562.55" width="1.5" height="1.5" fill="#3a3a3a"/>
<line x1="179.3" y1="542.4" x2="179.3" y2="574.3" stroke="#8fd3cc" stroke-width="0.95"/>
<rect x="177.5" y="557.7" width="3.6" height="10.199999999999932" fill="#3db2a6"/>
<circle cx="179.3" cy="563.3" r="2.6" fill="#fff" fill-opacity="0.55" stroke="#9dd8d1" stroke-width="0.95"/>
<rect x="178.55" y="562.55" width="1.5" height="1.5" fill="#3a3a3a"/>
<line x1="221.7" y1="544.9" x2="221.7" y2="573.8" stroke="#8fd3cc" stroke-width="0.95"/>
<rect x="219.89999999999998" y="553.4" width="3.6" height="13.200000000000045" fill="#3db2a6"/>
<circle cx="221.7" cy="561" r="2.6" fill="#fff" fill-opacity="0.55" stroke="#9dd8d1" stroke-width="0.95"/>
<rect x="220.95" y="560.25" width="1.5" height="1.5" fill="#3a3a3a"/>
<text transform="translate(83.4,478.2) scale(1.05,1)" text-anchor="middle" font-family='"Liberation Sans", sans-serif' font-weight="bold" font-size="15.6" fill="#000" stroke="#000" stroke-width="0.2">G</text>
<text x="50.05" y="625.75" text-anchor="middle" letter-spacing="-0.3" font-family='"Liberation Sans", sans-serif' font-size="8.2" fill="#656565" stroke="#656565" stroke-width="0.1">0</text>
<text x="50.05" y="584.15" text-anchor="middle" letter-spacing="-0.3" font-family='"Liberation Sans", sans-serif' font-size="8.2" fill="#656565" stroke="#656565" stroke-width="0.1">0.05</text>
<text x="50.05" y="542.55" text-anchor="middle" letter-spacing="-0.3" font-family='"Liberation Sans", sans-serif' font-size="8.2" fill="#656565" stroke="#656565" stroke-width="0.1">0.1</text>
<text x="50.05" y="500.95" text-anchor="middle" letter-spacing="-0.3" font-family='"Liberation Sans", sans-serif' font-size="8.2" fill="#656565" stroke="#656565" stroke-width="0.1">0.15</text>
<text x="50.05" y="458.55" text-anchor="middle" letter-spacing="-0.3" font-family='"Liberation Sans", sans-serif' font-size="8.2" fill="#656565" stroke="#656565" stroke-width="0.1">0.2</text>
<text x="95.85" y="631.05" text-anchor="middle" letter-spacing="-0.3" font-family='"Liberation Sans", sans-serif' font-size="8.2" fill="#656565" stroke="#656565" stroke-width="0.1">0.2</text>
<text x="135.25" y="631.05" text-anchor="middle" letter-spacing="-0.3" font-family='"Liberation Sans", sans-serif' font-size="8.2" fill="#656565" stroke="#656565" stroke-width="0.1">0.4</text>
<text x="174.65" y="631.05" text-anchor="middle" letter-spacing="-0.3" font-family='"Liberation Sans", sans-serif' font-size="8.2" fill="#656565" stroke="#656565" stroke-width="0.1">0.6</text>
<text x="214.05" y="631.05" text-anchor="middle" letter-spacing="-0.3" font-family='"Liberation Sans", sans-serif' font-size="8.2" fill="#656565" stroke="#656565" stroke-width="0.1">0.8</text>
<text x="150.79999999999998" y="640.7" text-anchor="middle" font-family='"Liberation Serif", serif' font-size="11.8" fill="#ec3b3b">α</text>
<text transform="translate(39.00,541.0) rotate(-90)" text-anchor="middle" font-family='"Liberation Sans", sans-serif' font-size="10.7" letter-spacing="0.15" fill="#3dab3d" stroke="#3dab3d" stroke-width="0.18">D<tspan font-size="5.5" dy="2.2">1</tspan><tspan dy="-2.2"> (estimated)</tspan></text>
</g>
<g>
<rect x="278.4" y="455.8" width="171.8" height="166.40000000000003" fill="#fff" stroke="#a9a9a9" stroke-width="1"/>
<rect x="278.40" y="455.8" width="42.95" height="166.40000000000003" fill="#e5e5e5"/>
<rect x="364.30" y="455.8" width="42.95" height="166.40000000000003" fill="#e5e5e5"/>
<line x1="277.9" y1="622.2" x2="450.7" y2="622.2" stroke="#a9a9a9" stroke-width="1"/>
<line x1="450.2" y1="455.3" x2="450.2" y2="622.7" stroke="#a9a9a9" stroke-width="1"/>
<line x1="447.7" y1="580.6" x2="450.2" y2="580.6" stroke="#888" stroke-width="0.8"/>
<line x1="447.7" y1="539.0" x2="450.2" y2="539.0" stroke="#888" stroke-width="0.8"/>
<line x1="447.7" y1="497.4" x2="450.2" y2="497.4" stroke="#888" stroke-width="0.8"/>
<line x1="342.8" y1="619.7" x2="342.8" y2="622.2" stroke="#888" stroke-width="0.8"/>
<line x1="342.8" y1="455.8" x2="342.8" y2="458.3" stroke="#888" stroke-width="0.8"/>
<line x1="428.7" y1="619.7" x2="428.7" y2="622.2" stroke="#888" stroke-width="0.8"/>
<line x1="428.7" y1="455.8" x2="428.7" y2="458.3" stroke="#888" stroke-width="0.8"/>
<line x1="278.4" y1="538.6" x2="450.2" y2="538.6" stroke="#3cad3c" stroke-width="2"/>
<line x1="279.4" y1="603.5" x2="449.2" y2="603.5" stroke="#666" stroke-width="1.4" stroke-dasharray="1.6 1.45"/>
<line x1="289.3" y1="477.8" x2="289.3" y2="527.5" stroke="#b4b4b4" stroke-width="1.1"/>
<rect x="287.55" y="493.2" width="3.5" height="23.30000000000001" fill="#574c4c"/>
<circle cx="289.3" cy="504.1" r="2.8" fill="#fff" fill-opacity="0.8" stroke="#8c8c8c" stroke-width="0.8"/>
<rect x="288.5" y="503.3" width="1.6" height="1.6" fill="#444"/>
<line x1="332.2" y1="495.5" x2="332.2" y2="519.8" stroke="#b4b4b4" stroke-width="1.1"/>
<rect x="330.45" y="503.7" width="3.5" height="8.500000000000057" fill="#574c4c"/>
<circle cx="332.2" cy="508.3" r="2.8" fill="#fff" fill-opacity="0.8" stroke="#8c8c8c" stroke-width="0.8"/>
<rect x="331.4" y="507.5" width="1.6" height="1.6" fill="#444"/>
<line x1="375.4" y1="493" x2="375.4" y2="525.7" stroke="#b4b4b4" stroke-width="1.1"/>
<rect x="373.65" y="505.8" width="3.5" height="9.699999999999989" fill="#574c4c"/>
<circle cx="375.4" cy="509.6" r="2.8" fill="#fff" fill-opacity="0.8" stroke="#8c8c8c" stroke-width="0.8"/>
<rect x="374.59999999999997" y="508.8" width="1.6" height="1.6" fill="#444"/>
<line x1="418.3" y1="496.3" x2="418.3" y2="519.8" stroke="#b4b4b4" stroke-width="1.1"/>
<rect x="416.55" y="504.5" width="3.5" height="7.7000000000000455" fill="#574c4c"/>
<circle cx="418.3" cy="508.3" r="2.8" fill="#fff" fill-opacity="0.8" stroke="#8c8c8c" stroke-width="0.8"/>
<rect x="417.5" y="507.5" width="1.6" height="1.6" fill="#444"/>
<line x1="310.7" y1="519.8" x2="310.7" y2="535.2" stroke="#8fd3cc" stroke-width="0.95"/>
<rect x="308.9" y="526" width="3.6" height="4" fill="#3db2a6"/>
<circle cx="310.7" cy="527.5" r="2.6" fill="#fff" fill-opacity="0.55" stroke="#9dd8d1" stroke-width="0.95"/>
<rect x="309.95" y="526.75" width="1.5" height="1.5" fill="#3a3a3a"/>
<line x1="353.6" y1="530" x2="353.6" y2="535" stroke="#8fd3cc" stroke-width="0.95"/>
<circle cx="353.6" cy="532.1" r="2.6" fill="#fff" fill-opacity="0.55" stroke="#9dd8d1" stroke-width="0.95"/>
<rect x="352.85" y="531.35" width="1.5" height="1.5" fill="#3a3a3a"/>
<circle cx="396.3" cy="535.7" r="2.6" fill="#fff" fill-opacity="0.55" stroke="#9dd8d1" stroke-width="0.95"/>
<rect x="395.55" y="534.95" width="1.5" height="1.5" fill="#3a3a3a"/>
<rect x="437.9" y="535.5" width="3.6" height="3.0" fill="#3db2a6"/>
<circle cx="441.8" cy="533.4" r="2.3" fill="none" stroke="#9dd8d1" stroke-width="0.8"/>
<circle cx="439.7" cy="537" r="2.6" fill="#fff" fill-opacity="0.55" stroke="#9dd8d1" stroke-width="0.95"/>
<rect x="438.95" y="536.25" width="1.5" height="1.5" fill="#3a3a3a"/>
<text transform="translate(292.6,477.1) scale(1.05,1)" text-anchor="middle" font-family='"Liberation Sans", sans-serif' font-weight="bold" font-size="15.6" fill="#000" stroke="#000" stroke-width="0.2">H</text>
<text x="267.15" y="625.75" text-anchor="middle" letter-spacing="-0.3" font-family='"Liberation Sans", sans-serif' font-size="8.2" fill="#656565" stroke="#656565" stroke-width="0.1">0</text>
<text x="267.15" y="584.15" text-anchor="middle" letter-spacing="-0.3" font-family='"Liberation Sans", sans-serif' font-size="8.2" fill="#656565" stroke="#656565" stroke-width="0.1">0.05</text>
<text x="267.15" y="542.55" text-anchor="middle" letter-spacing="-0.3" font-family='"Liberation Sans", sans-serif' font-size="8.2" fill="#656565" stroke="#656565" stroke-width="0.1">0.1</text>
<text x="267.15" y="500.95" text-anchor="middle" letter-spacing="-0.3" font-family='"Liberation Sans", sans-serif' font-size="8.2" fill="#656565" stroke="#656565" stroke-width="0.1">0.15</text>
<text x="267.15" y="458.55" text-anchor="middle" letter-spacing="-0.3" font-family='"Liberation Sans", sans-serif' font-size="8.2" fill="#656565" stroke="#656565" stroke-width="0.1">0.2</text>
<text x="307.45" y="631.05" text-anchor="middle" letter-spacing="-0.3" font-family='"Liberation Sans", sans-serif' font-size="8.2" fill="#656565" stroke="#656565" stroke-width="0.1">0.2</text>
<text x="347.35" y="631.05" text-anchor="middle" letter-spacing="-0.3" font-family='"Liberation Sans", sans-serif' font-size="8.2" fill="#656565" stroke="#656565" stroke-width="0.1">0.4</text>
<text x="386.75" y="631.05" text-anchor="middle" letter-spacing="-0.3" font-family='"Liberation Sans", sans-serif' font-size="8.2" fill="#656565" stroke="#656565" stroke-width="0.1">0.6</text>
<text x="426.15" y="631.05" text-anchor="middle" letter-spacing="-0.3" font-family='"Liberation Sans", sans-serif' font-size="8.2" fill="#656565" stroke="#656565" stroke-width="0.1">0.8</text>
<text x="363.0" y="640.7" text-anchor="middle" font-family='"Liberation Serif", serif' font-size="11.8" fill="#ec3b3b">α</text>
<text transform="translate(255.60,541.0) rotate(-90)" text-anchor="middle" font-family='"Liberation Sans", sans-serif' font-size="10.7" letter-spacing="0.15" fill="#3dab3d" stroke="#3dab3d" stroke-width="0.18">D<tspan font-size="5.5" dy="2.2">1</tspan><tspan dy="-2.2"> (estimated)</tspan></text>
</g>
<g>
<rect x="498.3" y="455.8" width="167.7" height="166.40000000000003" fill="#fff" stroke="#a9a9a9" stroke-width="1"/>
<rect x="498.30" y="455.8" width="41.92" height="166.40000000000003" fill="#e5e5e5"/>
<rect x="582.15" y="455.8" width="41.92" height="166.40000000000003" fill="#e5e5e5"/>
<line x1="497.8" y1="622.2" x2="666.5" y2="622.2" stroke="#a9a9a9" stroke-width="1"/>
<line x1="666.0" y1="455.3" x2="666.0" y2="622.7" stroke="#a9a9a9" stroke-width="1"/>
<line x1="663.5" y1="580.6" x2="666.0" y2="580.6" stroke="#888" stroke-width="0.8"/>
<line x1="663.5" y1="539.0" x2="666.0" y2="539.0" stroke="#888" stroke-width="0.8"/>
<line x1="663.5" y1="497.4" x2="666.0" y2="497.4" stroke="#888" stroke-width="0.8"/>
<line x1="561.2" y1="619.7" x2="561.2" y2="622.2" stroke="#888" stroke-width="0.8"/>
<line x1="561.2" y1="455.8" x2="561.2" y2="458.3" stroke="#888" stroke-width="0.8"/>
<line x1="645.0" y1="619.7" x2="645.0" y2="622.2" stroke="#888" stroke-width="0.8"/>
<line x1="645.0" y1="455.8" x2="645.0" y2="458.3" stroke="#888" stroke-width="0.8"/>
<line x1="498.3" y1="538.6" x2="666.0" y2="538.6" stroke="#3cad3c" stroke-width="2"/>
<line x1="499.3" y1="603.5" x2="665.0" y2="603.5" stroke="#666" stroke-width="1.4" stroke-dasharray="1.6 1.45"/>
<line x1="508.8" y1="486.6" x2="508.8" y2="511.4" stroke="#b4b4b4" stroke-width="1.1"/>
<rect x="507.05" y="494.6" width="3.5" height="11.399999999999977" fill="#574c4c"/>
<circle cx="508.8" cy="497.8" r="2.8" fill="#fff" fill-opacity="0.8" stroke="#8c8c8c" stroke-width="0.8"/>
<rect x="508.0" y="497.0" width="1.6" height="1.6" fill="#444"/>
<line x1="551" y1="492" x2="551" y2="512.2" stroke="#b4b4b4" stroke-width="1.1"/>
<rect x="549.25" y="501.9" width="3.5" height="5.100000000000023" fill="#574c4c"/>
<circle cx="551" cy="492" r="2.0" fill="none" stroke="#a2a2a2" stroke-width="0.7"/>
<circle cx="551" cy="505.1" r="2.8" fill="#fff" fill-opacity="0.8" stroke="#8c8c8c" stroke-width="0.8"/>
<rect x="550.2" y="504.3" width="1.6" height="1.6" fill="#444"/>
<circle cx="590.3" cy="498.6" r="2.0" fill="none" stroke="#a2a2a2" stroke-width="0.7"/>
<circle cx="591.3" cy="511.5" r="2.0" fill="none" stroke="#a2a2a2" stroke-width="0.7"/>
<circle cx="593.3" cy="510.6" r="2.0" fill="none" stroke="#a2a2a2" stroke-width="0.7"/>
<circle cx="592.3" cy="504.5" r="2.8" fill="#fff" fill-opacity="0.8" stroke="#8c8c8c" stroke-width="0.8"/>
<rect x="591.5" y="503.7" width="1.6" height="1.6" fill="#444"/>
<line x1="634.2" y1="503" x2="634.2" y2="514.7" stroke="#b4b4b4" stroke-width="1.1"/>
<circle cx="634.2" cy="505.3" r="2.8" fill="#fff" fill-opacity="0.8" stroke="#8c8c8c" stroke-width="0.8"/>
<rect x="633.4000000000001" y="504.5" width="1.6" height="1.6" fill="#444"/>
<line x1="529.7" y1="519" x2="529.7" y2="530" stroke="#8fd3cc" stroke-width="0.95"/>
<rect x="527.9000000000001" y="522" width="3.6" height="4" fill="#3db2a6"/>
<circle cx="529.7" cy="521.9" r="2.6" fill="#fff" fill-opacity="0.55" stroke="#9dd8d1" stroke-width="0.95"/>
<rect x="528.95" y="521.15" width="1.5" height="1.5" fill="#3a3a3a"/>
<circle cx="571.4" cy="529.5" r="2.6" fill="#fff" fill-opacity="0.55" stroke="#9dd8d1" stroke-width="0.95"/>
<rect x="570.65" y="528.75" width="1.5" height="1.5" fill="#3a3a3a"/>
<circle cx="611.1" cy="534.9" r="2.3" fill="none" stroke="#9dd8d1" stroke-width="0.8"/>
<circle cx="613" cy="531.3" r="2.6" fill="#fff" fill-opacity="0.55" stroke="#9dd8d1" stroke-width="0.95"/>
<rect x="612.25" y="530.55" width="1.5" height="1.5" fill="#3a3a3a"/>
<circle cx="654.9" cy="533.4" r="2.6" fill="#fff" fill-opacity="0.55" stroke="#9dd8d1" stroke-width="0.95"/>
<rect x="654.15" y="532.65" width="1.5" height="1.5" fill="#3a3a3a"/>
<text transform="translate(513.6,477.1) scale(1.05,1)" text-anchor="middle" font-family='"Liberation Sans", sans-serif' font-weight="bold" font-size="15.6" fill="#000" stroke="#000" stroke-width="0.2">I</text>
<text x="487.25" y="625.75" text-anchor="middle" letter-spacing="-0.3" font-family='"Liberation Sans", sans-serif' font-size="8.2" fill="#656565" stroke="#656565" stroke-width="0.1">0</text>
<text x="487.25" y="584.15" text-anchor="middle" letter-spacing="-0.3" font-family='"Liberation Sans", sans-serif' font-size="8.2" fill="#656565" stroke="#656565" stroke-width="0.1">0.05</text>
<text x="487.25" y="542.55" text-anchor="middle" letter-spacing="-0.3" font-family='"Liberation Sans", sans-serif' font-size="8.2" fill="#656565" stroke="#656565" stroke-width="0.1">0.1</text>
<text x="487.25" y="500.95" text-anchor="middle" letter-spacing="-0.3" font-family='"Liberation Sans", sans-serif' font-size="8.2" fill="#656565" stroke="#656565" stroke-width="0.1">0.15</text>
<text x="487.25" y="458.55" text-anchor="middle" letter-spacing="-0.3" font-family='"Liberation Sans", sans-serif' font-size="8.2" fill="#656565" stroke="#656565" stroke-width="0.1">0.2</text>
<text x="526.75" y="631.05" text-anchor="middle" letter-spacing="-0.3" font-family='"Liberation Sans", sans-serif' font-size="8.2" fill="#656565" stroke="#656565" stroke-width="0.1">0.2</text>
<text x="566.45" y="631.05" text-anchor="middle" letter-spacing="-0.3" font-family='"Liberation Sans", sans-serif' font-size="8.2" fill="#656565" stroke="#656565" stroke-width="0.1">0.4</text>
<text x="605.85" y="631.05" text-anchor="middle" letter-spacing="-0.3" font-family='"Liberation Sans", sans-serif' font-size="8.2" fill="#656565" stroke="#656565" stroke-width="0.1">0.6</text>
<text x="645.15" y="631.05" text-anchor="middle" letter-spacing="-0.3" font-family='"Liberation Sans", sans-serif' font-size="8.2" fill="#656565" stroke="#656565" stroke-width="0.1">0.8</text>
<text x="583.4000000000001" y="640.7" text-anchor="middle" font-family='"Liberation Serif", serif' font-size="11.8" fill="#ec3b3b">α</text>
<text transform="translate(473.20,541.0) rotate(-90)" text-anchor="middle" font-family='"Liberation Sans", sans-serif' font-size="10.7" letter-spacing="0.15" fill="#3dab3d" stroke="#3dab3d" stroke-width="0.18">D<tspan font-size="5.5" dy="2.2">1</tspan><tspan dy="-2.2"> (estimated)</tspan></text>
</g>
<rect x="177.9" y="42.9" width="49.8" height="20.8" fill="#fff" stroke="#b4b4b4" stroke-width="0.9"/>
<line x1="181.3" y1="48.6" x2="204.2" y2="48.6" stroke="#574c4c" stroke-width="2.8"/>
<line x1="181.3" y1="57.6" x2="204.2" y2="57.6" stroke="#3db2a6" stroke-width="2.8"/>
<text x="206.7" y="51.4" font-family='"Liberation Sans", sans-serif' font-size="7.6" fill="#4a4a4a" stroke="#4a4a4a" stroke-width="0.1">GMM</text>
<text x="206.7" y="60.3" font-family='"Liberation Sans", sans-serif' font-size="7.6" fill="#4a4a4a" stroke="#4a4a4a" stroke-width="0.1">SQD</text>
</svg>
</div></body></html>
